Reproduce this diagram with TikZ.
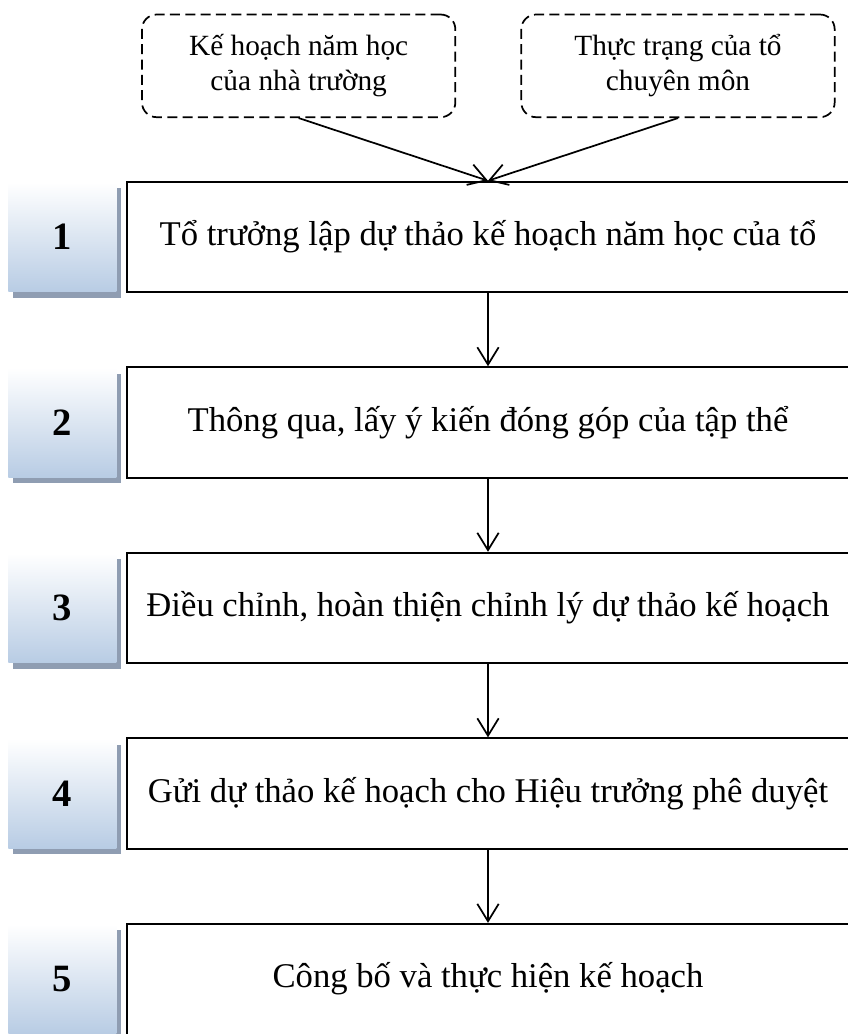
\documentclass[tikz,border=0pt]{standalone}
\usepackage{fontspec}
\setmainfont{Liberation Serif}
\usetikzlibrary{positioning, arrows.meta, shadows}
\definecolor{numblue}{RGB}{184,204,228}
\definecolor{shadowgray}{RGB}{143,157,178}

\begin{document}
\begin{tikzpicture}[
        stepbox/.style={rectangle, draw=black, line width=1.4pt, minimum width=542pt, minimum height=83pt, align=center, font=\fontsize{26}{31}\selectfont},
        numbox/.style={rectangle, minimum width=81pt, minimum height=82pt, top color=white, bottom color=numblue, font=\fontsize{29}{34}\selectfont\bfseries,
            drop shadow={shadow xshift=3.5pt, shadow yshift=-4.5pt, fill=shadowgray, opacity=1}},
        srcbox/.style={rectangle, draw=black, line width=1.3pt, dash pattern=on 7.5pt off 4pt, rounded corners=11pt, minimum width=235pt, minimum height=77pt, align=center, font=\fontsize{22}{26}\selectfont},
        arrow/.style={-{Straight Barb[length=13pt, width=16pt]}, line width=1.3pt}
    ]
        \useasboundingbox (-366pt,177.75pt) rectangle (270pt,-597.75pt);

        \node[stepbox] (S1) at (0,0) {Tổ trưởng lập dự thảo kế hoạch năm học của tổ};
        \node[stepbox, below=54.75pt of S1] (S2) {Thông qua, lấy ý kiến đóng góp của tập thể};
        \node[stepbox, below=54.75pt of S2] (S3) {Điều chỉnh, hoàn thiện chỉnh lý dự thảo kế hoạch};
        \node[stepbox, below=54.75pt of S3] (S4) {Gửi dự thảo kế hoạch cho Hiệu trưởng phê duyệt};
        \node[stepbox, below=54.75pt of S4] (S5) {Công bố và thực hiện kế hoạch};

        \node[numbox, left=6.75pt of S1] (N1) {1};
        \node[numbox, left=6.75pt of S2] (N2) {2};
        \node[numbox, left=6.75pt of S3] (N3) {3};
        \node[numbox, left=6.75pt of S4] (N4) {4};
        \node[numbox, left=6.75pt of S5] (N5) {5};

        \node[srcbox, above=47pt of S1, xshift=-142pt] (PLAN) {Kế hoạch năm học\\của nhà trường};
        \node[srcbox, above=47pt of S1, xshift=142.5pt] (STATE) {Thực trạng của tổ\\chuyên môn};

        \draw[arrow] (PLAN.south) -- (S1.north);
        \draw[arrow] (STATE.south) -- (S1.north);
        \draw[arrow] (S1) -- (S2);
        \draw[arrow] (S2) -- (S3);
        \draw[arrow] (S3) -- (S4);
        \draw[arrow] (S4) -- (S5);
    \end{tikzpicture}
\end{document}
